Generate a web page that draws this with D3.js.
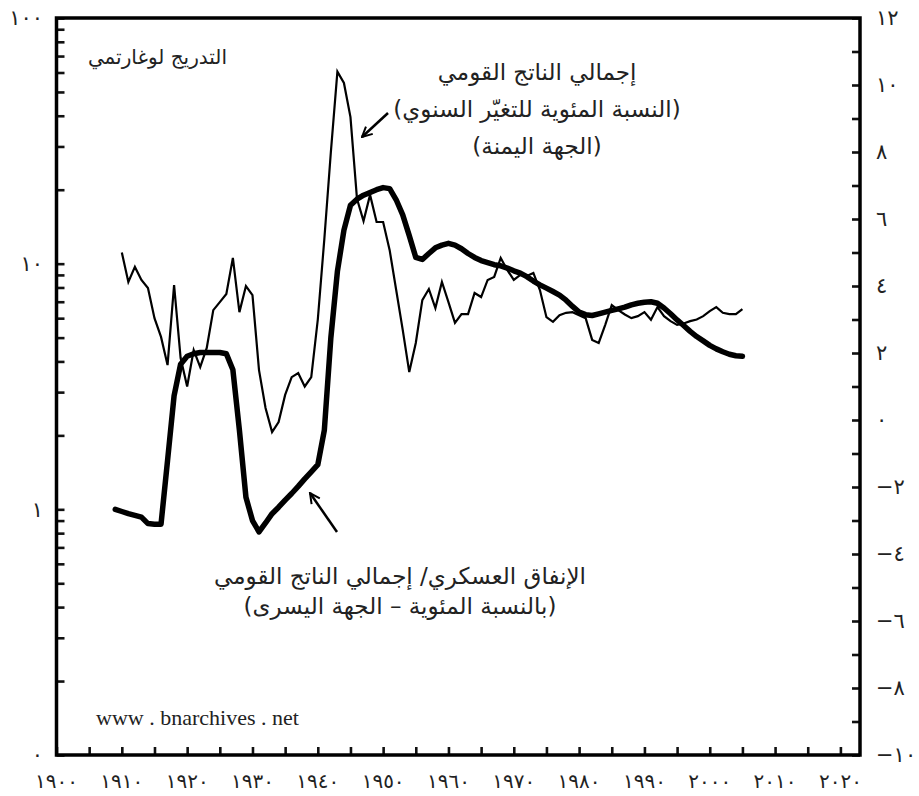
<!DOCTYPE html>
<html>
<head>
<meta charset="utf-8">
<style>
  body { margin: 0; background: #fff; }
  svg text { font-family: "DejaVu Sans", sans-serif; fill: #222; }
  .tick-label { font-size: 21px; }
  .note { font-size: 23px; }
  .site { font-family: "Liberation Serif", serif; font-size: 22px; }
</style>
</head>
<body>
<svg id="chart" width="919" height="796"></svg>
<script src="https://d3js.org/d3.v7.min.js"></script>
<script>
  // Military spending / GNP (%), left log axis
  const milYears = d3.range(1909, 2006);
  const milShare = [
    1.0, 0.98, 0.96, 0.945, 0.93, 0.875, 0.87, 0.87, 1.58, 2.9,
    3.9, 4.2, 4.3, 4.35, 4.35, 4.35, 4.35, 4.3, 3.7, 2.1,
    1.12, 0.9, 0.81, 0.88, 0.96, 1.02, 1.09, 1.16, 1.24, 1.33,
    1.42, 1.52, 2.1, 5.0, 9.3, 13.7, 17.3, 18.3, 19.0, 19.5,
    20.0, 20.4, 20.2, 18.2, 15.8, 13.0, 10.6, 10.4, 11.0, 11.6,
    11.9, 12.1, 11.9, 11.5, 11.0, 10.6, 10.3, 10.1, 9.9, 9.8,
    9.6, 9.35, 9.15, 8.85, 8.5, 8.2, 7.95, 7.7, 7.45, 7.1,
    6.7, 6.35, 6.2, 6.15, 6.25, 6.35, 6.45, 6.55, 6.65, 6.8,
    6.9, 6.97, 7.0, 6.9, 6.6, 6.25, 5.9, 5.6, 5.3, 5.05,
    4.85, 4.65, 4.5, 4.38, 4.28, 4.22, 4.2
  ];

  // GNP annual % change, right axis
  const gnpYears = d3.range(1910, 2006);
  const gnpChange = [
    5.0, 4.12, 4.57, 4.18, 3.94, 3.04, 2.48, 1.64, 4.03, 1.85,
    1.0, 2.09, 1.58, 2.15, 3.28, 3.52, 3.76, 4.84, 3.22, 4.0,
    3.73, 1.49, 0.36, -0.36, -0.06, 0.75, 1.28, 1.4, 1.0, 1.28,
    3.0, 5.4, 8.0, 10.4, 10.06, 9.04, 6.6, 5.94, 6.72, 5.91,
    5.91, 5.07, 3.88, 2.69, 1.43, 2.3, 3.58, 3.91, 3.34, 4.12,
    3.52, 2.9, 3.16, 3.16, 3.79, 3.67, 4.18, 4.27, 4.84, 4.48,
    4.18, 4.33, 4.3, 4.39, 3.88, 3.07, 2.93, 3.13, 3.2, 3.22,
    3.13, 3.04, 2.39, 2.3, 2.84, 3.43, 3.28, 3.15, 3.04, 3.1,
    3.22, 2.99, 3.37, 3.1, 2.95, 2.84, 2.88, 2.95, 3.0, 3.1,
    3.25, 3.37, 3.2, 3.16, 3.16, 3.31
  ];

  // tick labels
  const xTickYears = [1900, 1910, 1920, 1930, 1940, 1950, 1960, 1970, 1980, 1990, 2000, 2010, 2020];
  const xTickLabels = ['١٩٠٠', '١٩١٠', '١٩٢٠', '١٩٣٠', '١٩٤٠', '١٩٥٠', '١٩٦٠', '١٩٧٠', '١٩٨٠', '١٩٩٠', '٢٠٠٠', '٢٠١٠', '٢٠٢٠'];
  const leftTicks = [0.1, 1, 10, 100];
  const leftTickLabels = ['٠', '١', '١٠', '١٠٠'];
  const rightTicks = [-10, -8, -6, -4, -2, 0, 2, 4, 6, 8, 10, 12];
  const rightTickLabels = ['−١٠', '−٨', '−٦', '−٤', '−٢', '٠', '٢', '٤', '٦', '٨', '١٠', '١٢'];

  const plotLeft = 56.5, plotRight = 860, plotTop = 18, plotBottom = 755;

  const svg = d3.select('#chart');

  const x = d3.scaleLinear().domain([1900, 2023]).range([plotLeft, plotRight]);
  const yLeft = d3.scaleLog().domain([0.1, 100]).range([plotBottom, plotTop]);
  const yRight = d3.scaleLinear().domain([-10, 12]).range([plotBottom, plotTop]);

  // axes (ticks point inward)
  const xAxis = d3.axisBottom(x).tickValues(d3.range(1900, 2021, 5)).tickSize(-8).tickFormat('');
  const gx = svg.append('g').attr('transform', `translate(0,${plotBottom})`).call(xAxis);

  const leftAxis = d3.axisRight(yLeft).tickValues(yLeft.ticks()).tickSize(8).tickFormat('');
  const gl = svg.append('g').attr('transform', `translate(${plotLeft},0)`).call(leftAxis);

  const rightAxis = d3.axisLeft(yRight).tickValues(d3.range(-10, 13, 1)).tickSize(8).tickFormat('');
  const gr = svg.append('g').attr('transform', `translate(${plotRight},0)`).call(rightAxis);

  [gx, gl, gr].forEach(g => {
    g.select('.domain').remove();
    g.selectAll('.tick line').attr('stroke', '#111').attr('stroke-width', 2.6);
  });

  // tick labels
  svg.selectAll('.xlab').data(xTickYears).enter().append('text')
    .attr('class', 'tick-label')
    .attr('x', d => x(d))
    .attr('y', 788)
    .attr('text-anchor', 'middle')
    .style('font-size', '20px')
    .text((d, i) => xTickLabels[i]);

  svg.selectAll('.llab').data(leftTicks).enter().append('text')
    .attr('class', 'tick-label')
    .attr('x', 43)
    .attr('y', d => yLeft(d))
    .attr('dy', '0.35em')
    .attr('text-anchor', 'end')
    .text((d, i) => leftTickLabels[i]);

  svg.selectAll('.rlab').data(rightTicks).enter().append('text')
    .attr('class', 'tick-label')
    .attr('x', 876)
    .attr('y', d => yRight(d))
    .attr('dy', '0.35em')
    .attr('text-anchor', 'start')
    .attr('direction', 'ltr')
    .text((d, i) => rightTickLabels[i]);

  // lines
  const gnpLine = d3.line()
    .x((d, i) => x(gnpYears[i]))
    .y(d => yRight(d));

  const milLine = d3.line()
    .x((d, i) => x(milYears[i]))
    .y(d => yLeft(d));

  svg.append('path')
    .datum(gnpChange)
    .attr('fill', 'none')
    .attr('stroke', '#000')
    .attr('stroke-width', 2.2)
    .attr('stroke-linejoin', 'miter')
    .attr('d', gnpLine);

  svg.append('path')
    .datum(milShare)
    .attr('fill', 'none')
    .attr('stroke', '#000')
    .attr('stroke-width', 5.5)
    .attr('stroke-linejoin', 'round')
    .attr('stroke-linecap', 'round')
    .attr('d', milLine);

  // frame
  svg.append('rect')
    .attr('x', plotLeft).attr('y', plotTop)
    .attr('width', plotRight - plotLeft).attr('height', plotBottom - plotTop)
    .attr('fill', 'none')
    .attr('stroke', '#000')
    .attr('stroke-width', 3.5);

  // arrows
  svg.append('defs').append('marker')
    .attr('id', 'arrow')
    .attr('viewBox', '0 0 10 10')
    .attr('refX', 9).attr('refY', 5)
    .attr('markerWidth', 5).attr('markerHeight', 5)
    .attr('markerUnits', 'strokeWidth')
    .attr('orient', 'auto')
    .append('path')
    .attr('d', 'M1,1 L9,5 L1,9')
    .attr('fill', 'none')
    .attr('stroke', '#000')
    .attr('stroke-width', 1.6);

  const arrows = [
    { x1: 388, y1: 113, x2: 362, y2: 137 },
    { x1: 337, y1: 532, x2: 310, y2: 493 }
  ];
  svg.selectAll('.arrow').data(arrows).enter().append('line')
    .attr('x1', d => d.x1).attr('y1', d => d.y1)
    .attr('x2', d => d.x2).attr('y2', d => d.y2)
    .attr('stroke', '#000')
    .attr('stroke-width', 2.5)
    .attr('marker-end', 'url(#arrow)');

  // annotations (rtl: text-anchor start = right edge)
  svg.append('text')
    .attr('class', 'note')
    .attr('x', 227).attr('y', 64)
    .attr('text-anchor', 'start')
    .attr('direction', 'rtl')
    .style('font-size', '20px')
    .text('التدريج لوغارتمي');

  const gnpNote = ['إجمالي الناتج القومي', '(النسبة المئوية للتغيّر السنوي)', '(الجهة اليمنة)'];
  svg.selectAll('.gnpnote').data(gnpNote).enter().append('text')
    .attr('class', 'note')
    .attr('x', 537)
    .attr('y', (d, i) => 80 + i * 37)
    .attr('text-anchor', 'middle')
    .attr('direction', 'rtl')
    .text(d => d);

  const milNote = ['الإنفاق العسكري/ إجمالي الناتج القومي', '(بالنسبة المئوية – الجهة اليسرى)'];
  svg.selectAll('.milnote').data(milNote).enter().append('text')
    .attr('class', 'note')
    .attr('x', 400)
    .attr('y', (d, i) => 584 + i * 30)
    .attr('text-anchor', 'middle')
    .attr('direction', 'rtl')
    .text(d => d);

  svg.append('text')
    .attr('class', 'site')
    .attr('x', 96).attr('y', 725)
    .text('www . bnarchives . net');
</script>
</body>
</html>
